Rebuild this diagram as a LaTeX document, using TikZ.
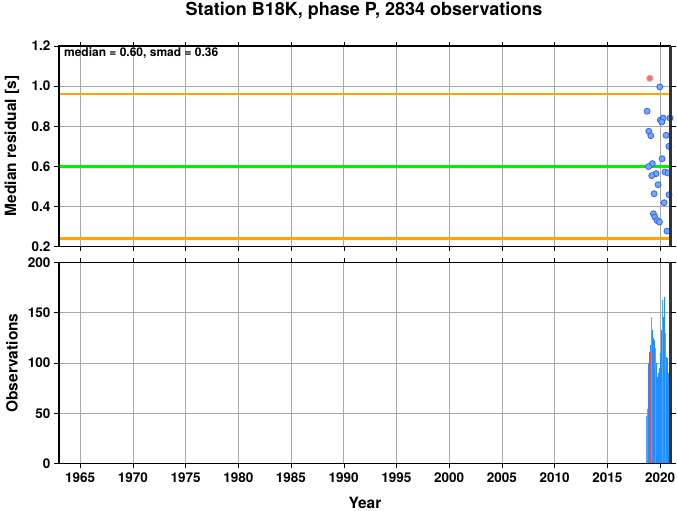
\documentclass[tikz,border=0pt]{standalone}
\usepackage{fontspec}
\setmainfont{TeX Gyre Heros}
\definecolor{gridgrey}{HTML}{A8A8A8}
\definecolor{smadorange}{HTML}{FFA500}
\definecolor{mediangreen}{HTML}{00F000}
\definecolor{dotblue}{HTML}{70A8FF}
\definecolor{dotedge}{HTML}{3366F0}
\definecolor{dotred}{HTML}{FF6A6A}
\definecolor{dotrededge}{HTML}{FF8C8C}
\definecolor{barblue}{HTML}{1E90FF}
\definecolor{barlight}{HTML}{4CA6FF}
\definecolor{barred}{HTML}{E04A5A}

\begin{document}
\begin{tikzpicture}[x=1pt,y=1pt,
    gridline/.style={gridgrey,line width=0.6pt},
    frameline/.style={line width=1.4pt},
    ticklab/.style={font=\fontsize{13.5}{15}\bfseries\selectfont},
    axislab/.style={font=\fontsize{15.5}{17}\bfseries\selectfont},
    dot/.style={draw=dotedge,fill=dotblue,line width=0.8pt}]
\useasboundingbox (0,0) rectangle (677,511);

%residual panel
\begin{scope}[shift={(59pt,264.3pt)},x=10.545pt,y=200.7pt]
    %grid
    \foreach \yr in {1965,1970,...,2020}
        \draw[gridline] ({\yr-1963},0) -- ({\yr-1963},1);
    \foreach \v in {0.4,0.6,0.8,1.0}
        \draw[gridline] (0,{\v-0.2}) -- (58,{\v-0.2});
    %median and smad
    \draw[smadorange,line width=2.4pt] (0,0.76) -- (58,0.76);
    \draw[smadorange,line width=2.4pt] (0,0.04) -- (58,0.04);
    \draw[mediangreen,line width=3.4pt] (0,0.40) -- (58,0.40);
    %residuals
    \filldraw[draw=dotrededge,fill=dotred,line width=0.8pt] ({2019.02-1963},{1.039-0.2}) circle[radius=3pt];
    \foreach \yr/\v in {2019.97/0.996,2018.77/0.875,2020.03/0.831,2020.30/0.841,
        2020.16/0.821,2020.95/0.841,2018.93/0.775,2019.12/0.753,2020.57/0.755,
        2020.83/0.700,2020.19/0.638,2019.27/0.614,2018.90/0.599,2019.62/0.564,
        2019.21/0.554,2020.47/0.572,2020.76/0.567,2019.81/0.509,2019.43/0.464,
        2020.85/0.459,2020.38/0.419,2019.37/0.364,2019.50/0.348,2019.72/0.330,
        2019.94/0.323,2020.66/0.278}
        \filldraw[dot] ({\yr-1963},{\v-0.2}) circle[radius=3pt];
    %axis
    \draw[frameline] (58,1) -- (0,1) -- (0,0) -- (58,0);
    \draw[line width=2.6pt,black!80] (58,0) -- (58,1);
    %ticks
    \foreach \yr in {1965,1970,...,2020}
        \draw ({\yr-1963},0) -- ++(0,-4pt) ({\yr-1963},1) -- ++(0,4pt);
    \foreach \v/\lbl [count=\i] in {0/0.2,0.2/0.4,0.4/0.6,0.6/0.8,0.8/1.0,1.0/1.2}
        \draw (58,\v) -- ++(5pt,0) (0,\v) -- ++(-5pt,0)
            node[ticklab,anchor=east] (reslab\i) {\lbl};
    \node[font=\fontsize{12}{14}\bfseries\selectfont,anchor=west] (stats) at (0.15,0.963)
        {median = 0.60, smad = 0.36};
\end{scope}

%count panel
\begin{scope}[shift={(59pt,47.3pt)},x=10.545pt,y=1.007pt]
    %grid
    \foreach \yr in {1965,1970,...,2020}
        \draw[gridline] ({\yr-1963},0) -- ({\yr-1963},200);
    \foreach \n in {50,100,150}
        \draw[gridline] (0,\n) -- (58,\n);
    %bars
    \foreach \n [count=\i from 0] in {47,54,100,111,118,146,133,125,123,115,100,86,90,
        95,110,133,163,146,166,130,106,105,90,88,88}
        \fill[barblue] ({55.66+\i*0.0948},0) rectangle ++(0.0948,\n);
    \foreach \i/\n in {0/47,1/54,5/146,9/115,16/163,19/130,23/88}
        \fill[barlight] ({55.66+\i*0.0948},0) rectangle ++(0.0948,\n);
    \fill[barred] ({55.66+2.9*0.0948},0) rectangle ++(0.17,111);
    %axis
    \draw[frameline] (58,200) -- (0,200) -- (0,0) -- (58,0);
    \draw[line width=2.6pt,black!80] (58,0) -- (58,200);
    %ticks
    \foreach \yr in {1965,1970,...,2020}
        \draw ({\yr-1963},200) -- ++(0,4pt) ({\yr-1963},0) -- ++(0,-4pt)
            node[ticklab,anchor=north,yshift=-1pt] (yearlab\yr) {\yr};
    \foreach \n in {0,50,...,200}
        \draw (58,\n) -- ++(5pt,0) (0,\n) -- ++(-5pt,0)
            node[ticklab,anchor=east] (countlab\n) {\n};
\end{scope}

%labels
\node[font=\fontsize{18}{20}\bfseries\selectfont] (title) at (364,500)
    {Station B18K, phase P, 2834 observations};
\node[axislab,rotate=90] (reslabel) at (12,365) {Median residual [s]};
\node[axislab,rotate=90] (countlabel) at (12,148) {Observations};
\node[axislab] (yearlabel) at (365,8) {Year};
\end{tikzpicture}
\end{document}
